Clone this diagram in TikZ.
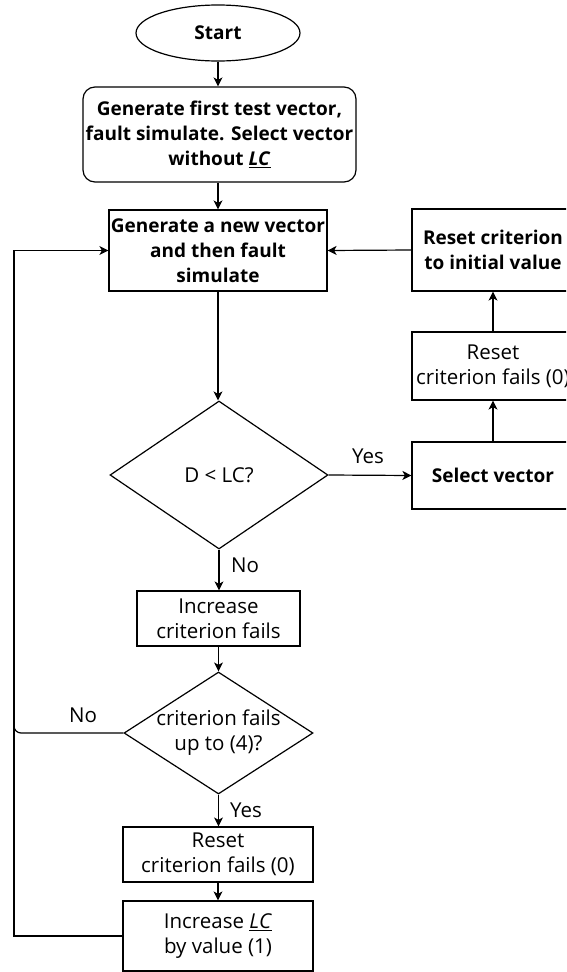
\documentclass[tikz,border=0pt]{standalone}
\usepackage{fontspec}
\setmainfont{Open Sans}
\usetikzlibrary{shapes.geometric,arrows.meta}
\newcommand{\bt}{\fontsize{19}{25}\selectfont\bfseries}
\begin{document}
\begin{tikzpicture}[x=1pt,y=-1pt,
  every node/.style={font=\fontsize{20.5}{25}\selectfont, align=center, inner sep=0pt},
  box/.style={draw, line width=1.2pt, rectangle},
  rbox/.style={draw, line width=1.2pt, rectangle, rounded corners=12pt},
  term/.style={draw, line width=1.2pt, ellipse},
  dec/.style={draw, line width=1.2pt, diamond},
  lbl/.style={font=\fontsize{20.5}{25}\selectfont},
  arr/.style={line width=1.2pt, -{Stealth[length=9pt,width=9pt,inset=2.5pt]}},
  ln/.style={line width=1.2pt}
]
\useasboundingbox (0,0) rectangle (566,972);
\clip (0,0) rectangle (566,972);

\node[term, minimum width=164, minimum height=56, font=\bt] (start) at (218,33) {Start};
\node[rbox, minimum width=273, minimum height=95, font=\bt] (gen1) at (219.5,134.5)
  {Generate first test vector,\\fault simulate. Select vector\\without \underline{\textit{LC}}};
\node[box, minimum width=218, minimum height=81, font=\bt] (gen2) at (218,250.5)
  {Generate a new vector\\and then fault\\simulate};
\node[dec, minimum width=218, minimum height=148] (d1) at (219,475) {};
\node at (d1) {D < LC?};
\node[box, minimum width=162, minimum height=67, font=\bt] (sel) at (493,475.5) {Select vector};
\node[box, minimum width=162, minimum height=68] (rcf1) at (493,366) {Reset\\criterion fails (0)};
\node[box, minimum width=162, minimum height=82, font=\bt] (rinit) at (493,250)
  {Reset criterion\\to initial value};
\node[box, minimum width=163, minimum height=55] (icf) at (218.5,618.5) {Increase\\criterion fails};
\node[dec, minimum width=189, minimum height=122] (d2) at (218.5,733) {};
\node at (d2) {criterion fails\\up to (4)?};
\node[box, minimum width=190, minimum height=55] (rcf2) at (218,854.5) {Reset\\criterion fails (0)};
\node[box, minimum width=190, minimum height=70] (ilc) at (218,936) {Increase \underline{\textit{LC}}\\by value (1)};

\coordinate (top) at (14,250.5);
\coordinate (mid) at (14,733);
\coordinate (bot) at (14,936);

\draw[arr] (start.south) -- (start.south |- gen1.north);
\draw[arr] (gen2.north |- gen1.south) -- (gen2.north);
\draw[arr] (gen2.south) -- (gen2.south |- d1.north);
\draw[arr] (d1.east) -- (sel.west);
\draw[arr] (sel.north) -- (rcf1.south);
\draw[arr] (rcf1.north) -- (rinit.south);
\draw[arr] (rinit.west) -- (gen2.east);
\draw[arr] (d1.south) -- (d1.south |- icf.north);
\draw[arr] (icf.south) -- (icf.south |- d2.north);
\draw[arr] (d2.south) -- (d2.south |- rcf2.north);
\draw[arr] (rcf2.south) -- (rcf2.south |- ilc.north);
\draw[ln, rounded corners=7pt] (d2.west) -- (mid) -- (top);
\draw[arr] (ilc.west) -- (bot) -- (top) -- (gen2.west);

\node[lbl] (yes1) at (368,456) {Yes};
\node[lbl] (no1) at (245,565) {No};
\node[lbl] (no2) at (83,715) {No};
\node[lbl] (yes2) at (246,810) {Yes};
\end{tikzpicture}
\end{document}
